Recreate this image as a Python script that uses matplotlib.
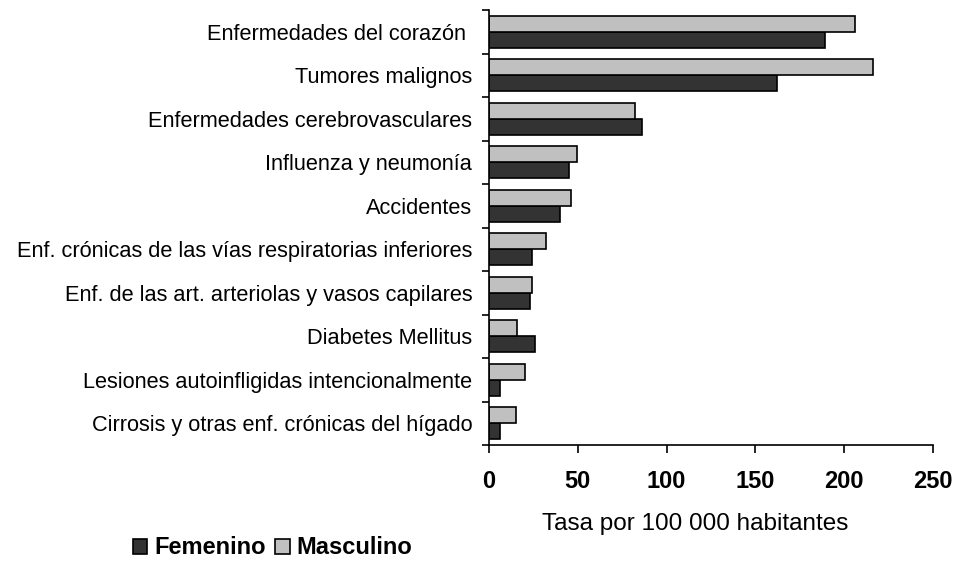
import numpy as np
import matplotlib.pyplot as plt

causas = ["Enfermedades del corazón ", "Tumores malignos", "Enfermedades cerebrovasculares",
          "Influenza y neumonía", "Accidentes",
          "Enf. crónicas de las vías respiratorias inferiores",
          "Enf. de las art. arteriolas y vasos capilares", "Diabetes Mellitus",
          "Lesiones autoinfligidas intencionalmente",
          "Cirrosis y otras enf. crónicas del hígado"]
femenino = [189, 162, 86, 45, 40, 24, 23, 26, 6, 6]
masculino = [206, 216, 82, 49.5, 46, 32, 24, 16, 20.5, 15]
xticks = [0, 50, 100, 150, 200, 250]

plt.rcParams['font.family'] = ['Liberation Sans', 'DejaVu Sans']

fig = plt.figure(figsize=(9.6, 5.61), dpi=100)
ax = fig.add_axes([489/960, 1-445/561, (933-489)/960, (445-10)/561])

y = np.arange(len(causas))
h = 0.37
ax.barh(y + h/2, femenino, height=h, color='#333333', edgecolor='black', linewidth=1.2, label='Femenino')
ax.barh(y - h/2, masculino, height=h, color='#c0c0c0', edgecolor='black', linewidth=1.2, label='Masculino')

ax.set_xlim(0, 250)
ax.set_ylim(len(causas) - 0.5, -0.5)
ax.set_xticks(xticks)
ax.set_xticklabels([str(t) for t in xticks], fontsize=17, fontweight='bold')
ax.tick_params(axis='x', direction='out', length=6, width=1.2, pad=12)
ax.set_yticks(y)
ax.set_yticklabels(causas, fontsize=15.7)
ax.tick_params(axis='y', which='major', length=0, pad=12)
ax.set_yticks(np.arange(-0.5, len(causas)), minor=True)
ax.tick_params(axis='y', which='minor', direction='out', length=5, width=1.2)

for s in ['top', 'right']:
    ax.spines[s].set_visible(False)
for s in ['left', 'bottom']:
    ax.spines[s].set_linewidth(1.2)

fig.text(695/960, 1-530/561, "Tasa por 100 000 habitantes", fontsize=17.5, ha='center', va='baseline')

handles, labels = ax.get_legend_handles_labels()
fig.legend(handles, labels, loc='center left', bbox_to_anchor=(112/960, 1-548/561),
           ncol=2, frameon=False, handlelength=0.6, handleheight=0.6, handletextpad=0.3,
           columnspacing=0.4, prop={'weight': 'bold', 'size': 17})

fig.savefig('out.png', dpi=100)
